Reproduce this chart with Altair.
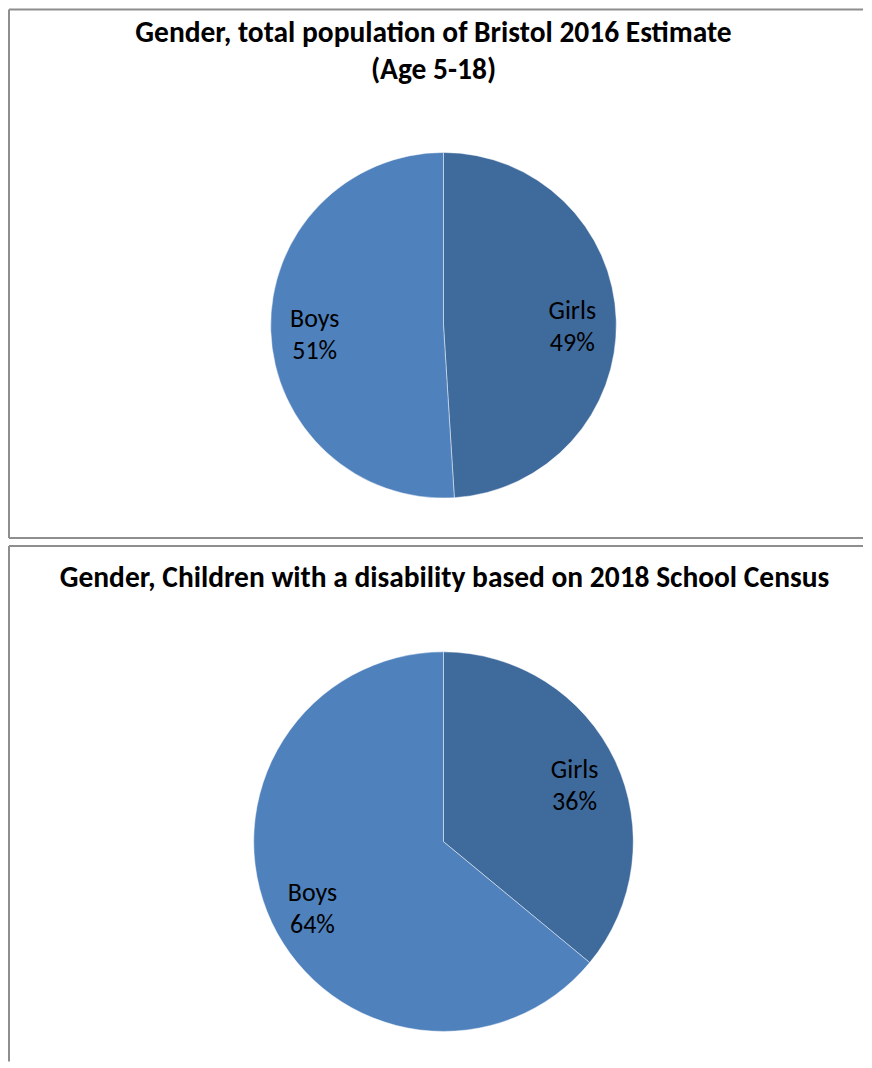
import altair as alt
import pandas as pd

# ---- data ----
genders = ["Girls", "Boys"]
top_values = [49, 51]
bottom_values = [36, 64]
top_title = "Gender, total population of Bristol 2016 Estimate\n(Age 5-18)"
bottom_title = "Gender, Children with a disability based on 2018 School Census"
slice_colors = ["#3F6A9C", "#4F81BD"]

FONT = "Carlito, Lato, Open Sans, sans-serif"
W = 855
H1 = 529
H2 = 516
BORDER = "#8E8E8E"


def border(height, bottom_edge):
    d = alt.Data(values=[{}])
    parts = [
        alt.Chart(d).mark_rule(color=BORDER, strokeWidth=2).encode(
            x=alt.value(0), y=alt.value(0), y2=alt.value(height)),
        alt.Chart(d).mark_rule(color=BORDER, strokeWidth=2).encode(
            x=alt.value(0), x2=alt.value(W), y=alt.value(0)),
    ]
    if bottom_edge:
        parts.append(alt.Chart(d).mark_rule(color=BORDER, strokeWidth=2).encode(
            x=alt.value(0), x2=alt.value(W), y=alt.value(height)))
    return parts


def panel(values, title, height, cx, cy, r, lr, tx, ty, bottom_edge):
    df = pd.DataFrame({
        "gender": genders,
        "value": values,
        "order": list(range(len(genders))),
        "label": [f"{g}\n{v}%" for g, v in zip(genders, values)],
    })
    base = alt.Chart(df).encode(
        theta=alt.Theta("value:Q", stack=True),
        order=alt.Order("order:Q"),
        x=alt.value(cx),
        y=alt.value(cy),
    )
    pie = base.mark_arc(radius=r, stroke="white", strokeWidth=1, strokeOpacity=0.45).encode(
        color=alt.Color("gender:N",
                        scale=alt.Scale(domain=genders, range=slice_colors),
                        legend=None)
    )
    labels = base.mark_text(radius=lr, font=FONT, fontSize=26, lineBreak="\n",
                            lineHeight=32, color="black", baseline="middle",
                            align="center", dy=-10).encode(text="label:N")
    ttl = alt.Chart(alt.Data(values=[{"t": title}])).mark_text(
        font=FONT, fontSize=29.5, fontWeight="bold", lineBreak="\n", lineHeight=37,
        color="black", baseline="middle", align="center"
    ).encode(text="t:N", x=alt.value(tx), y=alt.value(ty))
    return alt.layer(*border(height, bottom_edge), pie, labels, ttl).properties(
        width=W, height=height)


top = panel(top_values, top_title, H1, 435, 316, 173, 129, 425, 23, True)
bottom = panel(bottom_values, bottom_title, H2, 435, 296, 190, 145, 436, 32, False)

chart = alt.vconcat(top, bottom, spacing=6).properties(padding=0).configure_view(
    stroke=None).resolve_scale(color="independent", theta="independent")

chart.save("out.html", embed_options={"renderer": "svg", "actions": False})
